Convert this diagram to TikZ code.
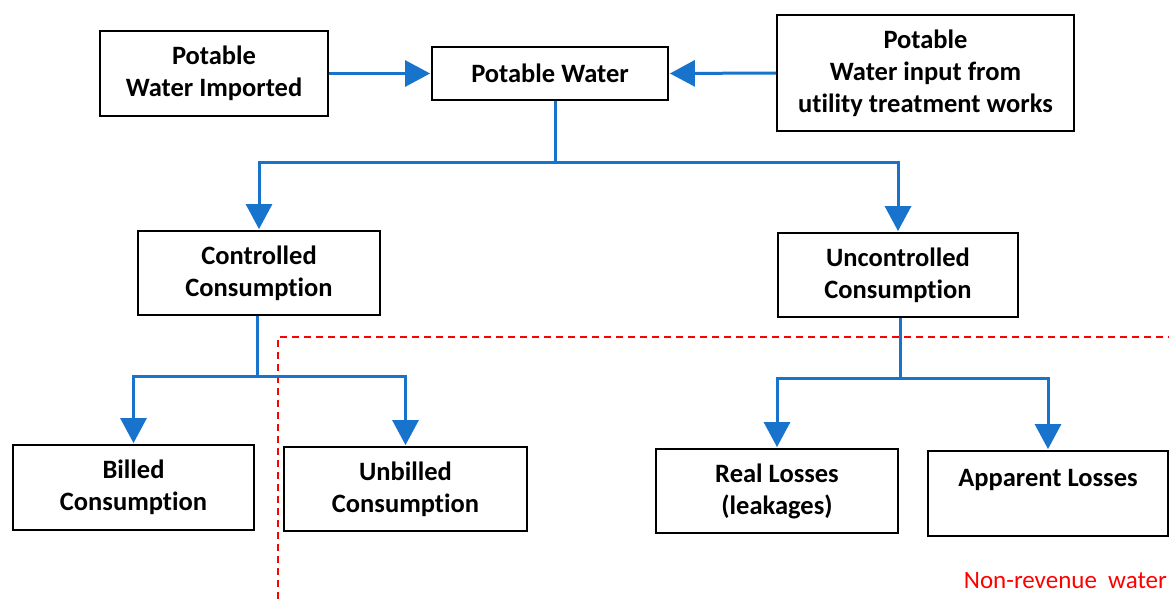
\documentclass[tikz,border=0pt]{standalone}
\usepackage{fontspec}
\setmainfont{Carlito}[Ligatures=NoCommon]
\usetikzlibrary{arrows.meta}
\definecolor{flowblue}{RGB}{24,115,205}
\definecolor{nrwred}{RGB}{255,0,0}
\begin{document}
\begin{tikzpicture}[x=1pt,y=-1pt,
  box/.style={draw=black,line width=1.8pt,inner sep=0pt,align=center,
    font=\fontsize{26.5}{32}\selectfont\bfseries},
  flow/.style={draw=flowblue,line width=3pt},
  arr/.style={flow,-{Triangle[width=26pt,length=25pt]},shorten >=1pt},
  nrw/.style={draw=nrwred,line width=1.5pt,dash pattern=on 7pt off 5pt}]
\useasboundingbox (0,0) rectangle (1169,602);
% nodes
\node[box,minimum width=228pt,minimum height=85pt] (imp) at (214,73.5) {Potable\\Water Imported};
\node[box,minimum width=236pt,minimum height=53pt] (pw) at (550,73.5) {Potable Water};
\node[box,minimum width=297pt,minimum height=116pt] (util) at (925.5,73) {Potable\\Water input from\\utility treatment works};
\node[box,minimum width=242pt,minimum height=84pt] (ctrl) at (259,273) {Controlled\\Consumption};
\node[box,minimum width=240pt,minimum height=84pt] (unc) at (898,275) {Uncontrolled\\Consumption};
\node[box,minimum width=241pt,minimum height=85pt] (bill) at (133.5,487.5) {Billed\\Consumption};
\node[box,minimum width=243pt,minimum height=84pt] (unbill) at (405.5,489) {Unbilled\\Consumption};
\node[box,minimum width=242pt,minimum height=84pt] (real) at (777,491) {Real Losses\\(leakages)};
\node[box,minimum width=240pt,minimum height=85pt] (app) at (1048,493.5) {Apparent Losses\\\mbox{}};
% non-revenue water boundary
\coordinate (nrwA) at (1175,337);
\coordinate (nrwB) at (278,337);
\coordinate (nrwC) at (278,610);
\draw[nrw] (nrwA) -- (nrwB) -- (nrwC);
\node[anchor=base east,inner sep=0pt,text=nrwred,font=\fontsize{25}{30}\selectfont] (nrwlabel) at (1167,588) {Non-revenue\ \ water};
% junctions
\coordinate (j1) at (555,162);
\coordinate (j2) at (257,376);
\coordinate (j3) at (900,378);
% connectors
\draw[arr] (imp.east) -- (pw.west);
\draw[arr] (util.west) -- (pw.east);
\draw[flow] (pw.south -| j1) -- (j1);
\draw[arr] (j1) -| (ctrl.north);
\draw[arr] (j1) -| (unc.north);
\draw[flow] (ctrl.south -| j2) -- (j2);
\draw[arr] (j2) -| (bill.north);
\draw[arr] (j2) -| (unbill.north);
\draw[flow] (unc.south -| j3) -- (j3);
\draw[arr] (j3) -| (real.north);
\draw[arr] (j3) -| (app.north);
\end{tikzpicture}
\end{document}
